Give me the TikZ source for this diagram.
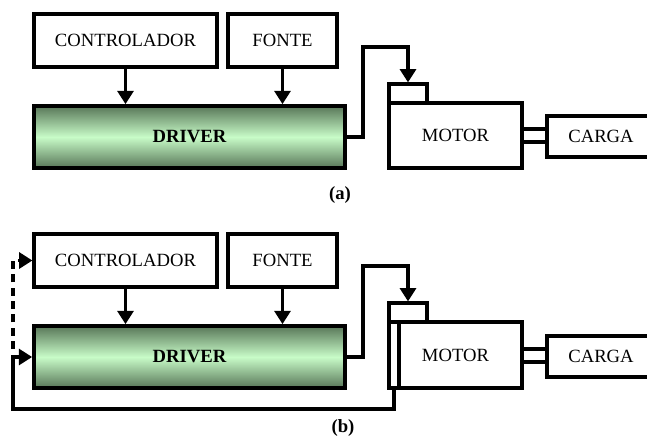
\documentclass[tikz,border=0pt]{standalone}
\usepackage{fontspec}
\setmainfont{Liberation Serif}
\usetikzlibrary{arrows.meta,fit}
\definecolor{verdeclaro}{RGB}{200,252,200}
\definecolor{verdeescuro}{RGB}{88,118,88}
\tikzset{
  bloco/.style={draw, line width=2.4pt, fill=white, inner sep=0pt},
  texto/.style={font=\fontsize{14}{16}\selectfont},
  driver/.style={bloco, line width=2.8pt, top color=verdeescuro, bottom color=verdeescuro, middle color=verdeclaro},
  fio/.style={line width=2.4pt},
  seta/.style={fio, -{Triangle[length=10pt,width=12pt]}},
  rotulo/.style={font=\fontsize{14}{16}\selectfont\bfseries}
}
\begin{document}
\begin{tikzpicture}[x=0.75pt,y=-0.75pt]
  \useasboundingbox (0,0) rectangle (647,436);
  \clip (0,0) rectangle (647,436);
  % (a) sistema sem realimentacao
  \node[bloco, fit={(34,14) (217,67)}, label={[texto]center:CONTROLADOR}] (ctrlA) {};
  \node[bloco, fit={(228,14) (337,67)}, label={[texto]center:FONTE}] (fonteA) {};
  \node[driver, fit={(34,106) (345,168)}, label={[texto,font=\fontsize{14}{16}\selectfont\bfseries]center:DRIVER}] (drvA) {};
  \node[bloco, fit={(389,103) (522,168)}, label={[texto]center:MOTOR}] (motorA) {};
  \node[bloco, fit={(389,84) (427,103)}] (encA) {};
  \node[bloco, fit={(522,129) (547,142)}] (eixoA) {};
  \node[bloco, fit={(547,116) (655,157)}, label={[texto]center:CARGA}] (cargaA) {};
  \coordinate (dobraA) at (363,47);
  \draw[seta] (ctrlA.south) -- (ctrlA.south |- drvA.north);
  \draw[seta] (fonteA.south) -- (fonteA.south |- drvA.north);
  \draw[seta] (drvA.east) -| (dobraA) -| (encA.north);
  \node[rotulo] (rotA) at (340,195) {(a)};
  % (b) sistema com realimentacao
  \node[bloco, fit={(34,234) (217,287)}, label={[texto]center:CONTROLADOR}] (ctrlB) {};
  \node[bloco, fit={(228,234) (337,287)}, label={[texto]center:FONTE}] (fonteB) {};
  \node[driver, fit={(34,326) (345,388)}, label={[texto,font=\fontsize{14}{16}\selectfont\bfseries]center:DRIVER}] (drvB) {};
  \node[bloco, fit={(389,322) (522,388)}, label={[texto]center:MOTOR}] (motorB) {};
  \node[bloco, fit={(389,322) (399,388)}] (sensorB) {};
  \node[bloco, fit={(389,303) (427,322)}] (encB) {};
  \node[bloco, fit={(522,349) (547,362)}] (eixoB) {};
  \node[bloco, fit={(547,336) (655,377)}, label={[texto]center:CARGA}] (cargaB) {};
  \coordinate (dobraB) at (363,266);
  \coordinate (retornoB) at (13,409);
  \coordinate (ramoB) at (13,349);
  \draw[seta] (ctrlB.south) -- (ctrlB.south |- drvB.north);
  \draw[seta] (fonteB.south) -- (fonteB.south |- drvB.north);
  \draw[seta] (drvB.east) -| (dobraB) -| (encB.north);
  \draw[seta] (sensorB.south) |- (retornoB) |- (drvB.west);
  \draw[seta, dash pattern=on 6pt off 4pt] (ramoB) |- (ctrlB.west);
  \node[rotulo] (rotB) at (343,428) {(b)};
\end{tikzpicture}
\end{document}
